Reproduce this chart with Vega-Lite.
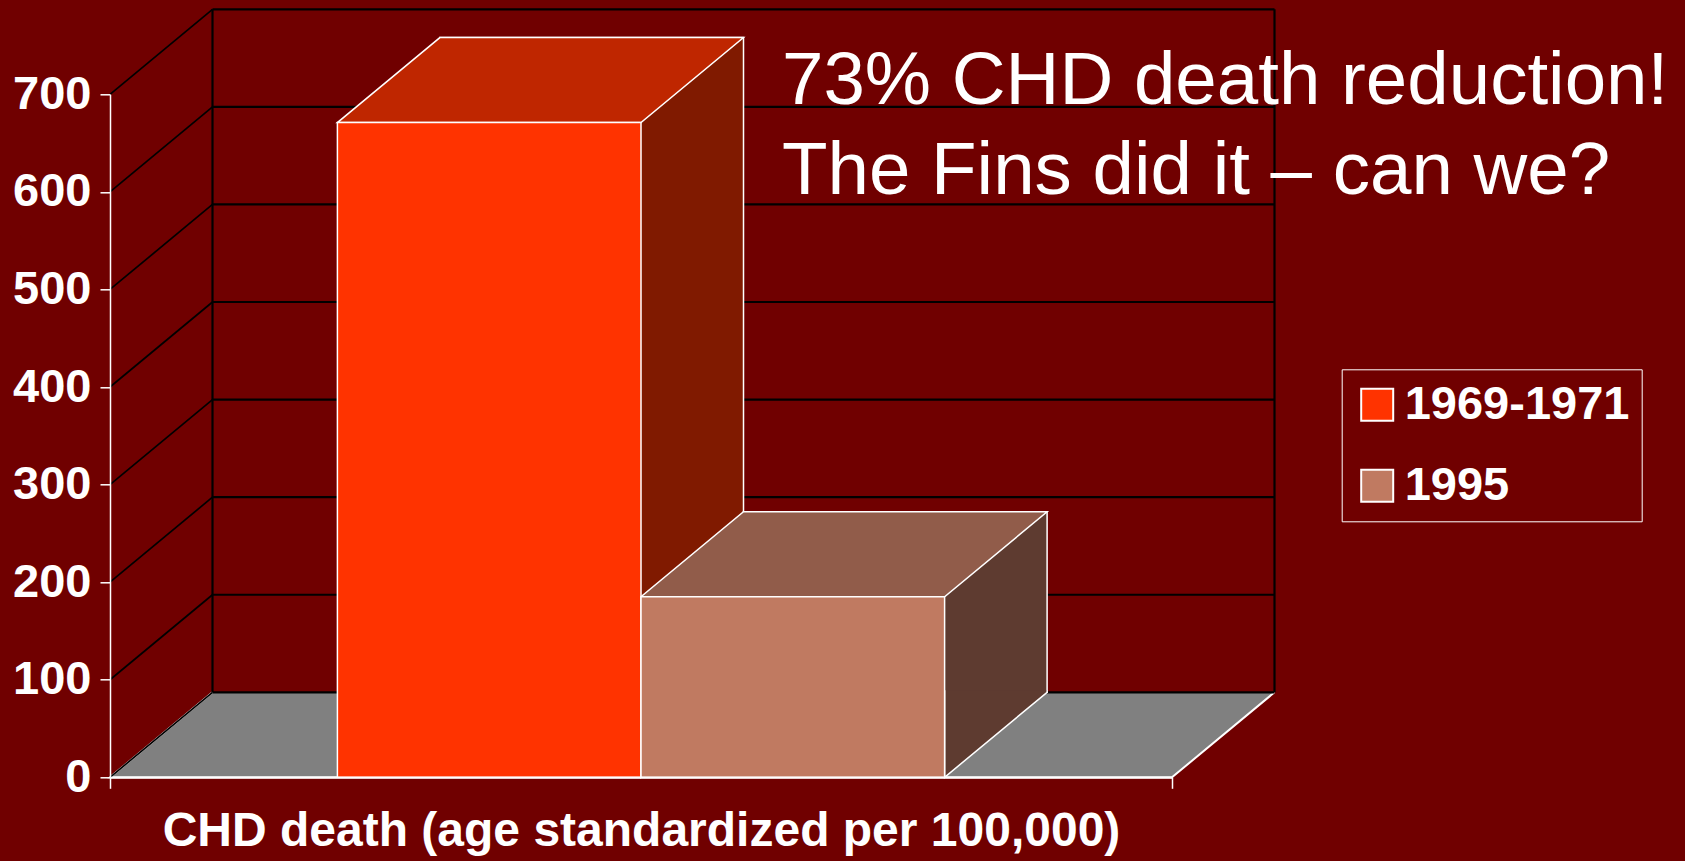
{
  "$schema": "https://vega.github.io/schema/vega-lite/v6.json",
  "width": 1062,
  "height": 683,
  "autosize": {"type": "none"},
  "padding": {"left": 110, "top": 94.3, "right": 513, "bottom": 83.7},
  "background": "#700000",
  "config": {"view": {"stroke": null}, "font": "Liberation Sans"},
  "title": {
    "text": ["73% CHD death reduction!", "The Fins did it – can we?"],
    "orient": "top",
    "anchor": "start",
    "frame": "group",
    "font": "Liberation Sans",
    "fontSize": 74.5,
    "fontWeight": "normal",
    "color": "white",
    "baseline": "alphabetic",
    "lineHeight": 90,
    "offset": 0,
    "dx": 672,
    "dy": 260
  },
  "datasets": {
    "bars": [
      {"series": "1969-1971", "value": 671},
      {"series": "1995", "value": 185}
    ],
    "ticks": [
      {"tick": 0}, {"tick": 100}, {"tick": 200}, {"tick": 300},
      {"tick": 400}, {"tick": 500}, {"tick": 600}, {"tick": 700}
    ]
  },
  "layer": [
    {
      "layer": [
        {
          "data": {"name": "ticks"},
          "transform": [{"filter": "datum.tick == 0"}],
          "mark": {"type": "point", "shape": "M102.5,-85L0,0L1062,0L1164.5,-85", "size": 4, "filled": true, "opacity": 1, "fill": "#808080", "stroke": "white", "strokeWidth": 2},
          "encoding": {
            "x": {"datum": 0, "type": "quantitative", "scale": {"domain": [0, 1], "nice": false, "zero": false},
              "axis": {"values": [0, 1], "labels": false, "grid": false, "tickSize": 11, "tickColor": "white", "tickWidth": 1.5, "domainColor": "white", "domainWidth": 2,
                "title": "CHD death (age standardized per 100,000)", "titleFont": "Liberation Sans", "titleFontSize": 48, "titleFontWeight": "bold", "titleColor": "white", "titleBaseline": "alphabetic", "titleY": 68, "zindex": 1}},
            "y": {"datum": 0, "type": "quantitative", "scale": {"domain": [0, 700], "nice": false},
              "axis": {"values": [0, 100, 200, 300, 400, 500, 600, 700], "grid": false, "title": null, "labelFont": "Liberation Sans", "labelFontWeight": "bold", "labelFontSize": 47, "labelColor": "white", "labelPadding": 9, "tickSize": 10, "tickColor": "white", "tickWidth": 1.5, "domainColor": "white", "domainWidth": 1.5, "zindex": 1}}
          }
        },
        {
          "data": {"name": "ticks"},
          "mark": {"type": "rule", "xOffset": 102.5, "x2Offset": 102.5, "yOffset": -85, "color": "black", "strokeWidth": 2.2},
          "encoding": {
            "x": {"datum": 0, "type": "quantitative"},
            "x2": {"datum": 1},
            "y": {"field": "tick", "type": "quantitative", "title": null}
          }
        },
        {
          "data": {"name": "ticks"},
          "mark": {"type": "rule", "x2Offset": 102.5, "y2Offset": -85, "color": "black", "strokeWidth": 1.7},
          "encoding": {
            "x": {"datum": 0, "type": "quantitative"},
            "x2": {"datum": 0},
            "y": {"field": "tick", "type": "quantitative", "title": null},
            "y2": {"field": "tick"}
          }
        },
        {
          "data": {"name": "ticks"},
          "transform": [{"filter": "datum.tick == 0"}],
          "mark": {"type": "rule", "xOffset": 102.5, "yOffset": -85, "y2Offset": -85, "color": "black", "strokeWidth": 2.2},
          "encoding": {
            "x": {"datum": 0, "type": "quantitative"},
            "y": {"datum": 0, "type": "quantitative"},
            "y2": {"datum": 700}
          }
        },
        {
          "data": {"name": "ticks"},
          "transform": [{"filter": "datum.tick == 0"}],
          "mark": {"type": "rule", "xOffset": 102.5, "yOffset": -85, "y2Offset": -85, "color": "black", "strokeWidth": 2.2},
          "encoding": {
            "x": {"datum": 1, "type": "quantitative"},
            "y": {"datum": 0, "type": "quantitative"},
            "y2": {"datum": 700}
          }
        }
      ]
    },
    {
      "data": {"name": "bars"},
      "layer": [
        {
          "mark": {"type": "bar", "xOffset": 102.5, "yOffset": -85, "y2Offset": -85, "stroke": "white", "strokeWidth": 1.5},
          "encoding": {
            "x": {"field": "series", "type": "nominal", "scale": {"paddingOuter": 0.749, "paddingInner": 0}, "axis": null},
            "y": {"field": "value", "type": "quantitative", "stack": null, "title": null},
            "y2": {"datum": 0},
            "color": {"field": "series", "type": "nominal", "scale": {"range": ["#801A00", "#5E3B30"]}, "legend": null}
          }
        },
        {
          "mark": {"type": "point", "shape": "M151.8,-87L151.8,0L254.3,-85L254.3,-87", "size": 4, "filled": true, "opacity": 1, "stroke": "white", "strokeWidth": 1.5},
          "encoding": {
            "x": {"field": "series", "type": "nominal", "axis": null},
            "y": {"datum": 0, "type": "quantitative"},
            "color": {"field": "series", "type": "nominal", "scale": {"range": ["#801A00", "#5E3B30"]}, "legend": null}
          }
        },
        {
          "mark": {"type": "point", "shape": "M-151.8,0L151.8,0L254.3,-85L-49.3,-85Z", "size": 4, "filled": true, "opacity": 1, "stroke": "white", "strokeWidth": 1.5},
          "encoding": {
            "x": {"field": "series", "type": "nominal", "axis": null},
            "y": {"field": "value", "type": "quantitative", "title": null},
            "color": {"field": "series", "type": "nominal", "scale": {"range": ["#BF2600", "#915C4A"]}, "legend": null}
          }
        },
        {
          "mark": {"type": "bar", "stroke": "white", "strokeWidth": 1.5},
          "encoding": {
            "x": {"field": "series", "type": "nominal", "axis": null},
            "y": {"field": "value", "type": "quantitative", "stack": null, "title": null},
            "color": {"field": "series", "type": "nominal", "scale": {"range": ["#FF3300", "#C07A61"]},
              "legend": {"orient": "none", "legendX": 1231.7, "legendY": 275, "title": null, "strokeColor": "white", "padding": 12,
                "labelFont": "Liberation Sans", "labelFontWeight": "bold", "labelFontSize": 47, "labelColor": "white", "labelOffset": 4, "labelBaseline": "middle", "labelLimit": 0,
                "symbolType": "square", "symbolSize": 1024, "symbolStrokeColor": "white", "symbolStrokeWidth": 2, "symbolOpacity": 1, "rowPadding": 33}}
          }
        }
      ],
      "resolve": {"scale": {"color": "independent"}}
    }
  ],
  "resolve": {"scale": {"x": "independent", "color": "independent"}}
}
